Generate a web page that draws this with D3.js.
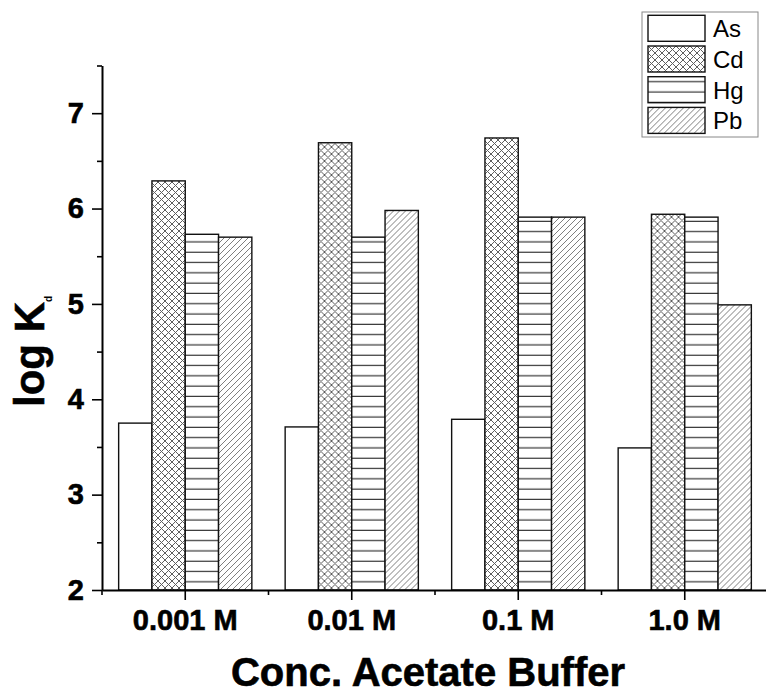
<!DOCTYPE html>
<html>
<head>
<meta charset="utf-8">
<script src="https://cdn.jsdelivr.net/npm/d3@7"></script>
<style>
  html, body { margin: 0; padding: 0; background: #fff; }
  svg { display: block; font-family: Arial, "Liberation Sans", sans-serif; }
</style>
</head>
<body>
<svg id="chart" width="766" height="696"></svg>
<script>
const categories = ["0.001 M", "0.01 M", "0.1 M", "1.0 M"];
const seriesNames = ["As", "Cd", "Hg", "Pb"];
const valuesAs = [3.75, 3.71, 3.79, 3.49];
const valuesCd = [6.29, 6.69, 6.74, 5.94];
const valuesHg = [5.73, 5.70, 5.91, 5.91];
const valuesPb = [5.70, 5.98, 5.91, 4.99];
const yMajorTicks = [2, 3, 4, 5, 6, 7];
const yMinorTicks = [2.5, 3.5, 4.5, 5.5, 6.5, 7.5];
const xTitle = "Conc. Acetate Buffer";

const seriesValues = { As: valuesAs, Cd: valuesCd, Hg: valuesHg, Pb: valuesPb };
const fills = { As: "#fff", Cd: "url(#pCd)", Hg: "url(#pHg)", Pb: "url(#pPb)" };

const svg = d3.select("#chart");
const defs = svg.append("defs");

// Cd: cross-hatch
const pCd = defs.append("pattern").attr("id", "pCd").attr("patternUnits", "userSpaceOnUse")
  .attr("width", 7).attr("height", 7);
pCd.append("rect").attr("width", 7).attr("height", 7).attr("fill", "#fff");
pCd.append("path").attr("d", "M0,0L7,7M0,7L7,0M-1,6L1,8M6,-1L8,1M-1,1L1,-1M6,8L8,6")
  .attr("stroke", "#5e5e5e").attr("stroke-width", 1).attr("fill", "none");
// Hg: horizontal lines
const pHg = defs.append("pattern").attr("id", "pHg").attr("patternUnits", "userSpaceOnUse")
  .attr("width", 10).attr("height", 10.3);
pHg.append("rect").attr("width", 10).attr("height", 10.3).attr("fill", "#fff");
pHg.append("line").attr("x1", 0).attr("x2", 10).attr("y1", 5).attr("y2", 5)
  .attr("stroke", "#222").attr("stroke-width", 1.1);
// Pb: diagonal hatch
const pPb = defs.append("pattern").attr("id", "pPb").attr("patternUnits", "userSpaceOnUse")
  .attr("width", 6).attr("height", 6);
pPb.append("rect").attr("width", 6).attr("height", 6).attr("fill", "#fff");
pPb.append("path").attr("d", "M0,6L6,0M-1,1L1,-1M5,7L7,5")
  .attr("stroke", "#707070").attr("stroke-width", 0.9).attr("fill", "none");

const x0 = d3.scaleBand().domain(categories).range([102, 768]).padding(0);
const bw = x0.bandwidth();
const x1 = d3.scaleBand().domain(seriesNames).range([0.1 * bw, 0.9 * bw]).padding(0);
const y = d3.scaleLinear().domain([2, 7.5]).range([590, 65.5]);

// Bars
const groups = svg.append("g").selectAll("g").data(categories).join("g")
  .attr("transform", d => `translate(${x0(d)},0)`);
groups.selectAll("rect")
  .data((c, i) => seriesNames.map(s => ({ s, v: seriesValues[s][i] })))
  .join("rect")
  .attr("x", d => x1(d.s))
  .attr("width", x1.bandwidth())
  .attr("y", d => y(d.v))
  .attr("height", d => y(2) - y(d.v))
  .attr("fill", d => fills[d.s])
  .attr("stroke", "#111")
  .attr("stroke-width", 1.4);

const boldText = sel => sel.attr("font-size", 29).attr("font-weight", "bold").attr("fill", "#000")
  .attr("stroke", "#000").attr("stroke-width", 0.6)
  .attr("font-family", "Arial, 'Liberation Sans', sans-serif");

// Y axis
const yAxis = svg.append("g").attr("transform", "translate(102,0)")
  .call(d3.axisLeft(y).tickValues(yMajorTicks).tickSize(10).tickPadding(8).tickSizeOuter(0).tickFormat(d3.format("d")));
yAxis.select(".domain").attr("stroke-width", 2);
yAxis.selectAll(".tick line").attr("stroke-width", 1.6);
yAxis.selectAll("text").call(boldText);
const yMinor = svg.append("g").attr("transform", "translate(102,0)")
  .call(d3.axisLeft(y).tickValues(yMinorTicks).tickSize(5).tickSizeOuter(0).tickFormat(""));
yMinor.select(".domain").remove();
yMinor.selectAll(".tick line").attr("stroke-width", 1.6);

// X axis
const xAxis = svg.append("g").attr("transform", "translate(0,590)")
  .call(d3.axisBottom(x0).tickSize(10).tickPadding(9).tickSizeOuter(0));
xAxis.select(".domain").attr("stroke-width", 2);
xAxis.selectAll(".tick line").attr("stroke-width", 1.6);
xAxis.selectAll("text").call(boldText);
svg.append("g").attr("transform", "translate(0,590)")
  .selectAll("line").data(categories).join("line")
  .attr("x1", d => x0(d)).attr("x2", d => x0(d))
  .attr("y1", 0).attr("y2", 5)
  .attr("stroke", "#000").attr("stroke-width", 1.6);

// Axis titles
svg.append("text")
  .attr("x", 428).attr("y", 686)
  .attr("text-anchor", "middle")
  .attr("font-size", 40).attr("font-weight", "bold")
  .attr("stroke", "#000").attr("stroke-width", 0.6)
  .text(xTitle);
const yt = svg.append("text")
  .attr("transform", "translate(44,407) rotate(-90)")
  .attr("text-anchor", "start")
  .attr("font-size", 42).attr("font-weight", "bold")
  .attr("stroke", "#000").attr("stroke-width", 0.6);
yt.append("tspan").text("log K");
yt.append("tspan").attr("font-size", 10).attr("stroke-width", 0).attr("dy", 8).text("d");

// Legend
const lg = svg.append("g");
lg.append("rect").attr("x", 642).attr("y", 12).attr("width", 116).attr("height", 125)
  .attr("fill", "#fff").attr("stroke", "#888").attr("stroke-width", 1);
const items = lg.selectAll("g.item").data(seriesNames).join("g").attr("class", "item")
  .attr("transform", (d, i) => `translate(648,${15.3 + i * 30.7})`);
items.append("rect").attr("width", 57).attr("height", 26)
  .attr("fill", d => fills[d]).attr("stroke", "#111").attr("stroke-width", 1.4);
items.append("text").attr("x", 65).attr("y", 22).attr("font-size", 24)
  .attr("fill", "#000").text(d => d);
</script>
</body>
</html>
